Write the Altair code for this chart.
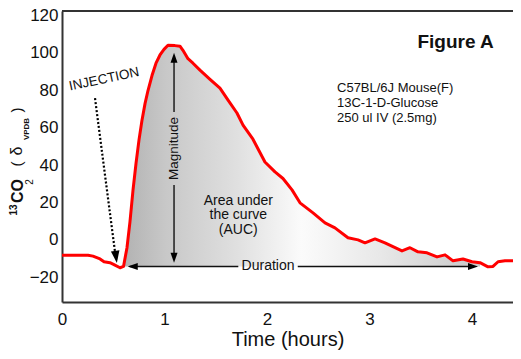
import altair as alt
import pandas as pd

# ---- data ----
time_h = [0.0, 0.254, 0.302, 0.371, 0.410, 0.468, 0.507, 0.566, 0.600, 0.634, 0.663,
          0.693, 0.722, 0.751, 0.780, 0.810, 0.839, 0.878, 0.917, 0.956, 0.995,
          1.034, 1.102, 1.151, 1.180, 1.229, 1.278, 1.346, 1.444, 1.541, 1.620,
          1.707, 1.766, 1.863, 1.980, 2.078, 2.156, 2.244, 2.322, 2.449, 2.566,
          2.663, 2.790, 2.888, 2.956, 3.054, 3.151, 3.317, 3.395, 3.473, 3.561,
          3.659, 3.737, 3.815, 3.912, 4.000, 4.078, 4.156, 4.205, 4.254, 4.322, 4.400]
co2_delta = [-8.2, -8.2, -8.7, -10.2, -11.7, -12.2, -13.2, -14.9, -14.2, -4.2, 9.6,
             26.7, 40.8, 53.3, 63.8, 72.8, 79.8, 87.8, 94.4, 98.8, 101.8,
             104.0, 103.8, 103.5, 101.3, 96.8, 94.4, 90.7, 85.8, 81.1, 74.7,
             67.8, 61.3, 53.8, 41.6, 36.3, 32.8, 26.7, 19.8, 14.4, 9.1,
             6.4, 1.1, 0.0, -1.6, 0.5, -1.6, -5.9, -4.2, -6.4, -6.9,
             -9.1, -8.0, -11.2, -10.2, -11.7, -12.2, -14.4, -14.2, -11.7, -11.2, -11.2]

x_ticks = [0, 1, 2, 3, 4]
y_ticks = [-20, 0, 20, 40, 60, 80, 100, 120]
baseline_value = -14.2

# annotation segments (Magnitude arrow, Duration arrow)
seg_x1 = [1.093, 1.093, 0.66, 2.30]
seg_y1 = [97.8, 29.3, -14.2, -14.2]
seg_x2 = [1.093, 1.093, 1.72, 4.00]
seg_y2 = [68.3, -10.2, -14.2, -14.2]

# arrow heads
head_x = [1.093, 1.093, 0.69, 4.01, 0.527]
head_y = [97.3, -9.6, -14.2, -14.2, -9.1]
head_angle = [0, 180, 270, 90, 172]
head_size = [100, 100, 100, 100, 150]

# dotted injection arrow
dot_x = [0.322, 0.517]
dot_y = [75.7, -6.4]

# texts in data coordinates
txt_label = ["Area under", "the curve", "(AUC)"]
txt_x = [1.72, 1.72, 1.72]
txt_y = [21.0, 13.3, 5.3]

info_label = ["C57BL/6J Mouse(F)", "13C-1-D-Glucose", "250 ul IV (2.5mg)"]
info_x = [2.683, 2.683, 2.683]
info_y = [81.1, 73.1, 65.1]

W, H = 451, 291
FONT = "Liberation Sans"

xs = alt.Scale(domain=[0, 4.40], nice=False, zero=False)
ys = alt.Scale(domain=[-33.2, 122.3], nice=False, zero=False)

x_axis = alt.Axis(values=x_ticks, title="Time (hours)", grid=False, ticks=False,
                  labelFontSize=17, labelPadding=9, labelColor="#111", labelFont=FONT,
                  domainColor="#333", domainWidth=2, titleFontSize=20,
                  titleFontWeight="normal", titleFont=FONT, titleColor="#111",
                  titlePadding=2, labelFlush=False)
y_axis = alt.Axis(values=y_ticks, title=None, grid=False, ticks=False,
                  labelFontSize=17, labelPadding=4, labelColor="#111", labelFont=FONT,
                  domainColor="#333", domainWidth=2)


def X(f):
    return alt.X(f, type="quantitative", scale=xs, axis=x_axis)


def Y(f):
    return alt.Y(f, type="quantitative", scale=ys, axis=y_axis)


curve = pd.DataFrame({"t": time_h, "v": co2_delta})

grad = alt.Gradient(
    gradient="linear",
    stops=[
        alt.GradientStop(color="#b2b2b2", offset=0),
        alt.GradientStop(color="#c8c8c8", offset=0.12),
        alt.GradientStop(color="#e0e0e0", offset=0.32),
        alt.GradientStop(color="#fbfbfb", offset=0.5),
        alt.GradientStop(color="#e8e8e8", offset=0.72),
        alt.GradientStop(color="#c8c8c8", offset=1),
    ],
    x1=0, x2=1, y1=0, y2=0,
)

area = alt.Chart(curve).transform_filter(
    "datum.t >= 0.6 && datum.t <= 4.08"
).mark_area(color=grad).encode(x=X("t"), y=Y("v"), y2=alt.datum(baseline_value))

line = alt.Chart(curve).mark_line(color="#ff0000", strokeWidth=3, strokeJoin="round").encode(
    x=X("t"), y=Y("v"))

segs = pd.DataFrame({"x1": seg_x1, "y1": seg_y1, "x2": seg_x2, "y2": seg_y2})
rules = alt.Chart(segs).mark_rule(color="#111", strokeWidth=1.4).encode(
    x=X("x1"), y=Y("y1"), x2="x2:Q", y2="y2:Q")

heads = pd.DataFrame({"x": head_x, "y": head_y, "a": head_angle, "s": head_size})
arrowheads = alt.Chart(heads).mark_point(
    shape="M0,-1L-0.7,1L0.7,1Z", filled=True, color="#000", opacity=1
).encode(x=X("x"), y=Y("y"), angle=alt.Angle("a:Q", scale=None),
         size=alt.Size("s:Q", scale=None, legend=None))

dots = pd.DataFrame({"x": dot_x, "y": dot_y})
dotted = alt.Chart(dots).mark_line(color="#000", strokeWidth=2.2, strokeDash=[2, 2]).encode(
    x=X("x"), y=Y("y"))

one = pd.DataFrame({"a": [0]})


def label(text, x, y, size=14, angle=0, weight="normal", align="center", baseline="middle"):
    return alt.Chart(pd.DataFrame({"x": [x], "y": [y]})).mark_text(
        text=text, fontSize=size, angle=angle, fontWeight=weight, font=FONT,
        align=align, baseline=baseline, color="#111"
    ).encode(x=X("x"), y=Y("y"))


mag = label("Magnitude", 1.093, 48.8, size=13.5, angle=270)
dur = label("Duration", 2.01, -14.2, size=14)
inj = label("INJECTION", 0.41, 85.8, size=13.5, angle=348)
fig = label("Figure A", 3.84, 105.6, size=19, weight="bold")

auc = alt.Chart(pd.DataFrame({"x": txt_x, "y": txt_y, "t": txt_label})).mark_text(
    fontSize=14, font=FONT, color="#111").encode(x=X("x"), y=Y("y"), text="t:N")
info = alt.Chart(pd.DataFrame({"x": info_x, "y": info_y, "t": info_label})).mark_text(
    fontSize=13, font=FONT, color="#111", align="left").encode(x=X("x"), y=Y("y"), text="t:N")

top_border = alt.Chart(one).mark_rule(color="#333", strokeWidth=2).encode(
    x=alt.value(0), x2=alt.value(W), y=alt.value(0))


def ptitle(text, px, py, size, weight="normal"):
    return alt.Chart(one).mark_text(
        text=text, fontSize=size, fontWeight=weight, font=FONT, angle=270,
        align="center", baseline="alphabetic", color="#111"
    ).encode(x=alt.value(px), y=alt.value(py))


ytitle = [
    ptitle("13", -45, 199, 10, "bold"),
    ptitle("CO", -39, 180, 16, "bold"),
    ptitle("2", -29, 171, 10),
    ptitle("(", -40, 153, 15),
    ptitle("δ", -40, 140, 16),
    ptitle("VPDB", -33, 118, 8, "bold"),
    ptitle(")", -40, 99, 15),
]

chart = alt.layer(
    area, rules, line, arrowheads, dotted, mag, dur, inj, fig, auc, info, top_border, *ytitle
).properties(
    width=W, height=H,
    autosize=alt.AutoSizeParams(type="none"),
    padding={"left": 54, "top": 3, "right": 0, "bottom": 48},
).configure_view(stroke="transparent")

chart.save("out.html", embed_options={"renderer": "svg", "actions": False})
